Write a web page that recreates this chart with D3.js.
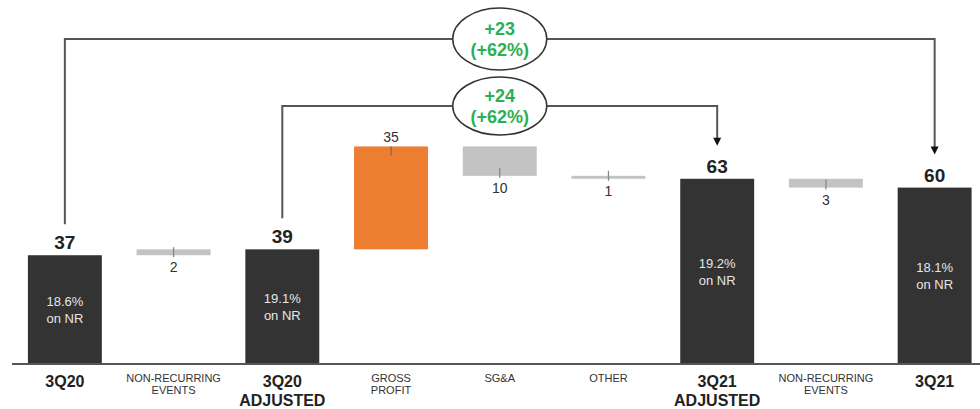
<!DOCTYPE html>
<html><head><meta charset="utf-8">
<script src="https://cdn.jsdelivr.net/npm/d3@7"></script>
<style>body{margin:0;background:#fff}svg{display:block}</style>
</head><body>
<svg id="c" width="980" height="409"></svg>
<script>
// ---- data ----
const categories = [
  ["3Q20"], ["NON-RECURRING","EVENTS"], ["3Q20","ADJUSTED"], ["GROSS","PROFIT"],
  ["SG&A"], ["OTHER"], ["3Q21","ADJUSTED"], ["NON-RECURRING","EVENTS"], ["3Q21"]
];
const kinds = ["total","delta","total","delta","delta","delta","total","delta","total"];
const values = [37, 2, 39, 35, -10, -1, 63, -3, 60];
const deltaLabels = ["", "2", "", "35", "10", "1", "", "3", ""];
const deltaLabelSide = ["", "below", "", "above", "below", "below", "", "below", ""];
const marginLabels = ["18.6%", "", "19.1%", "", "", "", "19.2%", "", "18.1%"];
const brackets = [
  {from: 0, to: 8, main: "+23", pct: "(+62%)"},
  {from: 2, to: 6, main: "+24", pct: "(+62%)"}
];

// ---- layout ----
const svg = d3.select("#c");
const font = "'Liberation Sans', Arial, sans-serif";
const idx = d3.range(categories.length);
const x = d3.scaleBand().domain(idx).range([10.5, 989]).paddingInner(0.32).paddingOuter(0.16);
const y = d3.scaleLinear().domain([0, 74]).range([364, 364 - 74 * 2.94]);

let run = 0;
const bars = idx.map(i => {
  let s, e;
  if (kinds[i] === "total") { s = 0; e = values[i]; run = values[i]; }
  else { s = run; e = run + values[i]; run = e; }
  return {i, kind: kinds[i], lo: Math.min(s, e), hi: Math.max(s, e), v: values[i]};
});
const color = d => d.kind === "total" ? "#333333" : (d.v > 0 && d.i === 3 ? "#ed7d31" : "#c3c3c3");

svg.append("g").selectAll("rect").data(bars).join("rect")
  .attr("x", d => x(d.i)).attr("width", x.bandwidth())
  .attr("y", d => y(d.hi)).attr("height", d => Math.max(2, y(d.lo) - y(d.hi)))
  .attr("fill", color);

// baseline axis
svg.append("line").attr("x1", 12).attr("x2", 980).attr("y1", y(0)).attr("y2", y(0))
  .attr("stroke", "#555").attr("stroke-width", 2);

// total value labels
const totals = bars.filter(d => d.kind === "total");
svg.append("g").selectAll("text").data(totals).join("text")
  .attr("x", d => x(d.i) + x.bandwidth() / 2).attr("y", d => y(d.hi) - 6)
  .attr("text-anchor", "middle").attr("font-family", font).attr("font-weight", "bold")
  .attr("font-size", 19).attr("fill", "#222").text(d => d.v);

// margin labels inside totals
const mg = svg.append("g").attr("font-family", font).attr("font-size", 13).attr("fill", "#e6e6e6").attr("text-anchor", "middle");
totals.forEach(d => {
  const cx = x(d.i) + x.bandwidth() / 2, mid = (y(d.hi) + y(0)) / 2;
  mg.append("text").attr("x", cx).attr("y", mid - 8).attr("dy", "0.35em").text(marginLabels[d.i]);
  mg.append("text").attr("x", cx).attr("y", mid + 9).attr("dy", "0.35em").text("on NR");
});

// delta labels with leader ticks
const deltas = bars.filter(d => d.kind === "delta");
deltas.forEach(d => {
  const cx = x(d.i) + x.bandwidth() / 2;
  if (deltaLabelSide[d.i] === "above") {
    const t = y(d.hi);
    svg.append("line").attr("x1", cx).attr("x2", cx).attr("y1", t).attr("y2", t + 9).attr("stroke", "#7a6a5a").attr("stroke-width", 1.3);
    svg.append("text").attr("x", cx).attr("y", t - 9).attr("dy", "0.35em").attr("text-anchor", "middle")
      .attr("font-family", font).attr("font-size", 14).attr("fill", "#333").text(deltaLabels[d.i]);
  } else {
    const b = Math.max(y(d.lo), y(d.hi) + 2);
    svg.append("line").attr("x1", cx).attr("x2", cx).attr("y1", b - 8).attr("y2", b + 2).attr("stroke", "#888").attr("stroke-width", 1.3);
    svg.append("text").attr("x", cx).attr("y", b + 12).attr("dy", "0.35em").attr("text-anchor", "middle")
      .attr("font-family", font).attr("font-size", 14).attr("fill", "#333").text(deltaLabels[d.i]);
  }
});

// category labels
idx.forEach(i => {
  const cx = x(i) + x.bandwidth() / 2;
  const big = kinds[i] === "total";
  categories[i].forEach((ln, k) => {
    svg.append("text").attr("x", cx)
      .attr("y", big ? 381 + k * 19 : 378 + k * 12).attr("dy", "0.35em")
      .attr("text-anchor", "middle").attr("font-family", font)
      .attr("font-weight", big ? "bold" : "normal")
      .attr("font-size", big ? 16 : 11).attr("fill", big ? "#222" : "#333")
      .text(ln);
  });
});

// brackets
const bracketY = [39, 106];
const ellRy = [31, 29];
brackets.forEach((b, k) => {
  const x1 = x(b.from) + x.bandwidth() / 2, x2 = x(b.to) + x.bandwidth() / 2;
  const yy = bracketY[k];
  const yStart = y(values[b.from]) - 31;
  const yTip = y(values[b.to]) - 33;
  svg.append("path")
    .attr("d", `M${x1},${yStart}V${yy}H${x2}V${yTip - 7}`)
    .attr("fill", "none").attr("stroke", "#555").attr("stroke-width", 2);
  svg.append("path")
    .attr("d", `M${x2 - 4},${yTip - 8}L${x2 + 4},${yTip - 8}L${x2},${yTip}Z`).attr("fill", "#111");
  const cx = (x1 + x2) / 2;
  svg.append("ellipse").attr("cx", cx).attr("cy", yy).attr("rx", 47).attr("ry", ellRy[k])
    .attr("fill", "#fff").attr("stroke", "#333").attr("stroke-width", 1.5);
  svg.append("text").attr("x", cx).attr("y", yy - 10).attr("dy", "0.35em").attr("text-anchor", "middle")
    .attr("font-family", font).attr("font-weight", "bold").attr("font-size", 18).attr("fill", "#2eaf52").text(b.main);
  svg.append("text").attr("x", cx).attr("y", yy + 11).attr("dy", "0.35em").attr("text-anchor", "middle")
    .attr("font-family", font).attr("font-weight", "bold").attr("font-size", 18).attr("fill", "#2eaf52").text(b.pct);
});
</script>
</body></html>
